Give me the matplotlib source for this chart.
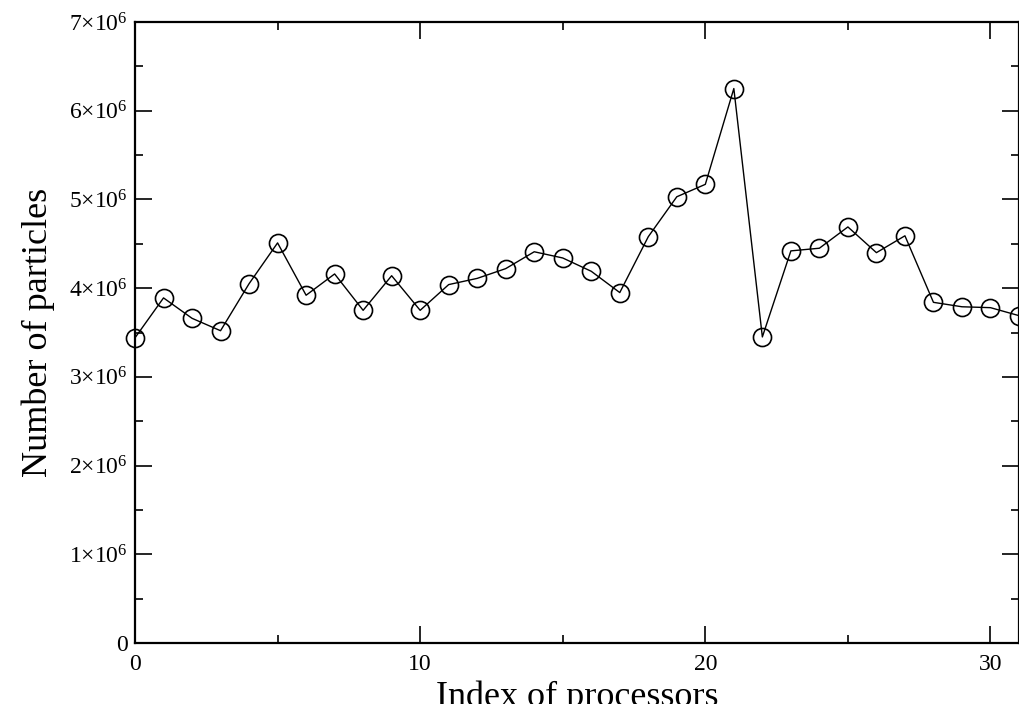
import matplotlib
matplotlib.use("Agg")
import matplotlib.pyplot as plt
from matplotlib.ticker import MultipleLocator, FuncFormatter

plt.rcParams['font.family'] = ['Liberation Serif', 'DejaVu Serif']
plt.rcParams['mathtext.fontset'] = 'custom'
plt.rcParams['mathtext.rm'] = 'Liberation Serif'
plt.rcParams['mathtext.it'] = 'Liberation Serif:italic'

# particles per processor (millions)
proc_index = list(range(32))
particles_m = [3.44, 3.89, 3.66, 3.52, 4.05, 4.51, 3.92, 4.16, 3.75, 4.14,
               3.75, 4.04, 4.11, 4.22, 4.41, 4.34, 4.19, 3.95, 4.58, 5.03,
               5.17, 6.25, 3.45, 4.42, 4.45, 4.69, 4.40, 4.59, 3.84, 3.79,
               3.78, 3.69]
particles = [v * 1e6 for v in particles_m]

fig = plt.figure(figsize=(10.2, 7.04), dpi=100)
ax = fig.add_axes([135 / 1020, 61 / 704, 884 / 1020, 621 / 704])

ax.plot(proc_index, particles, color='black', linewidth=1.0,
        marker='o', markersize=13, markerfacecolor='none',
        markeredgecolor='black', markeredgewidth=1.2, clip_on=False)

ax.set_xlim(0, 31)
ax.set_ylim(0, 7e6)
ax.xaxis.set_major_locator(MultipleLocator(10))
ax.xaxis.set_minor_locator(MultipleLocator(5))
ax.yaxis.set_major_locator(MultipleLocator(1e6))
ax.yaxis.set_minor_locator(MultipleLocator(5e5))


def fmt_y(v, pos):
    n = int(round(v / 1e6))
    if n == 0:
        return '0'
    return f'{n}×10$^{{6}}$'


ax.yaxis.set_major_formatter(FuncFormatter(fmt_y))
ax.tick_params(which='both', direction='in', top=True, right=True,
               labelsize=17, width=1.2)
ax.tick_params(which='major', length=12)
ax.tick_params(which='minor', length=6)
ax.tick_params(axis='x', which='major', pad=8)
ax.tick_params(axis='y', which='major', pad=5)
for s in ax.spines.values():
    s.set_linewidth(1.6)

ax.set_xlabel('Index of processors', fontsize=26, labelpad=4)
ax.set_ylabel('Number of particles', fontsize=26, labelpad=10)

fig.savefig('out.png', dpi=100)
